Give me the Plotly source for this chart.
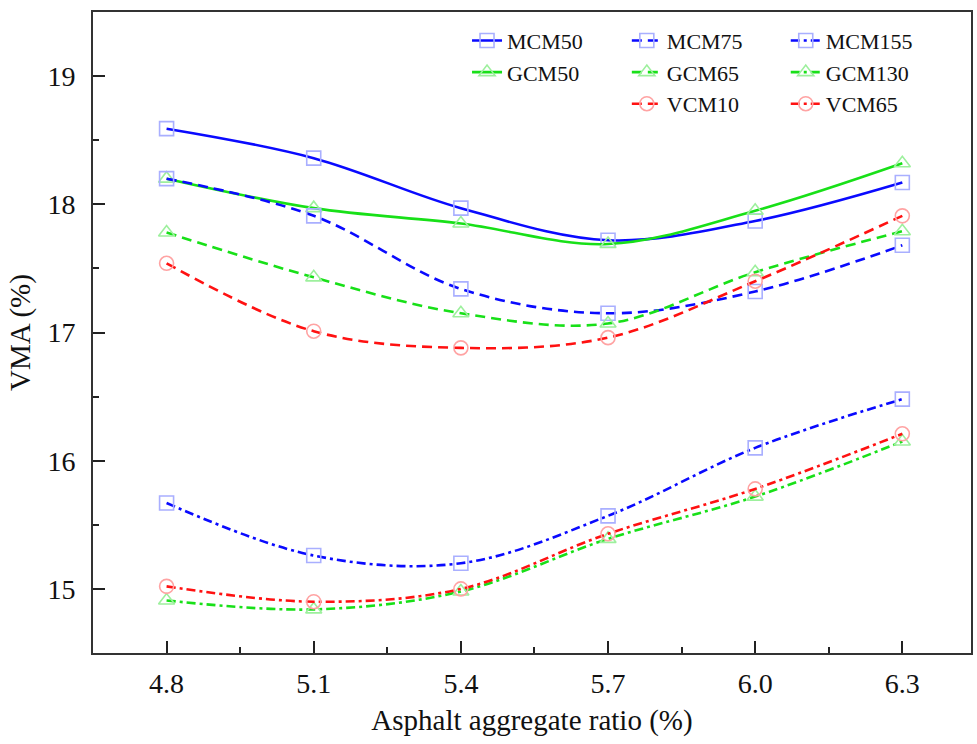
import plotly.graph_objects as go

# ---- data ----
asphalt_ratio = [4.8, 5.1, 5.4, 5.7, 6.0, 6.3]
MCM50 = [18.59, 18.36, 17.97, 17.72, 17.87, 18.17]
MCM75 = [18.20, 17.91, 17.34, 17.15, 17.32, 17.68]
MCM155 = [15.67, 15.26, 15.20, 15.57, 16.10, 16.48]
GCM50 = [18.20, 17.97, 17.85, 17.69, 17.95, 18.32]
GCM65 = [17.78, 17.43, 17.15, 17.07, 17.47, 17.79]
GCM130 = [14.91, 14.84, 14.98, 15.39, 15.72, 16.15]
VCM10 = [17.54, 17.01, 16.88, 16.96, 17.40, 17.91]
VCM65 = [15.02, 14.90, 15.00, 15.43, 15.78, 16.21]
x_ticks = [4.8, 5.1, 5.4, 5.7, 6.0, 6.3]
x_tick_labels = ["4.8", "5.1", "5.4", "5.7", "6.0", "6.3"]
y_ticks = [15, 16, 17, 18, 19]

FONT = "Liberation Serif"
BLUE, GREEN, RED = "#0a0aff", "#18e018", "#ff1111"
LBLUE, LGREEN, LRED = "#a9afff", "#9df09d", "#ffa3a3"
DASH = "10px,6px"
DASHDOT = "9px,4px,3px,4px"

series = [
    ("MCM50", MCM50, BLUE, LBLUE, "square-open", "solid", "legend"),
    ("GCM50", GCM50, GREEN, LGREEN, "triangle-up-open", "solid", "legend"),
    ("MCM75", MCM75, BLUE, LBLUE, "square-open", DASH, "legend2"),
    ("GCM65", GCM65, GREEN, LGREEN, "triangle-up-open", DASH, "legend2"),
    ("VCM10", VCM10, RED, LRED, "circle-open", DASH, "legend2"),
    ("MCM155", MCM155, BLUE, LBLUE, "square-open", DASHDOT, "legend3"),
    ("GCM130", GCM130, GREEN, LGREEN, "triangle-up-open", DASHDOT, "legend3"),
    ("VCM65", VCM65, RED, LRED, "circle-open", DASHDOT, "legend3"),
]

fig = go.Figure()
for name, vals, lc, mc, sym, dash, leg in series:
    fig.add_trace(go.Scatter(
        x=asphalt_ratio, y=vals, name=name, mode="lines+markers",
        line=dict(color=lc, width=2.6, dash=dash, shape="spline", smoothing=1.0),
        marker=dict(symbol=sym, size=14, color=mc, line=dict(color=mc, width=1.6)),
        legend=leg,
    ))

leg_common = dict(font=dict(family=FONT, size=22, color="#111111"),
                  bgcolor="rgba(0,0,0,0)", xanchor="left", yanchor="top",
                  tracegroupgap=0, itemwidth=30)

fig.update_layout(
    width=977, height=744,
    margin=dict(l=93, r=4, t=12, b=91),
    paper_bgcolor="white", plot_bgcolor="white",
    font=dict(family=FONT, color="#111111"),
    legend=dict(x=0.426, y=0.988, **leg_common),
    legend2=dict(x=0.608, y=0.988, **leg_common),
    legend3=dict(x=0.789, y=0.988, **leg_common),
    xaxis=dict(
        range=[4.65, 6.44], tickmode="array", tickvals=x_ticks, ticktext=x_tick_labels,
        ticks="inside", ticklen=12, tickwidth=2, tickcolor="#222222",
        showline=True, linewidth=2, linecolor="#333333", mirror=True,
        showgrid=False, zeroline=False,
        tickfont=dict(family=FONT, size=28, color="#111111"),
        ticklabelstandoff=4,
        minor=dict(dtick=0.15, tick0=4.65, ticks="inside", ticklen=6, tickwidth=2, tickcolor="#222222"),
        title=dict(text="Asphalt aggregate ratio (%)", font=dict(family=FONT, size=29, color="#111111"), standoff=12),
    ),
    yaxis=dict(
        range=[14.5, 19.5], tickmode="array", tickvals=y_ticks,
        ticks="inside", ticklen=12, tickwidth=2, tickcolor="#222222",
        showline=True, linewidth=2, linecolor="#333333", mirror=True,
        showgrid=False, zeroline=False,
        tickfont=dict(family=FONT, size=28, color="#111111"),
        ticklabelstandoff=10,
        minor=dict(dtick=0.5, tick0=14.5, ticks="inside", ticklen=6, tickwidth=2, tickcolor="#222222"),
        title=dict(text="VMA (%)", font=dict(family=FONT, size=29, color="#111111"), standoff=8),
    ),
)

fig.write_html("out.html")
